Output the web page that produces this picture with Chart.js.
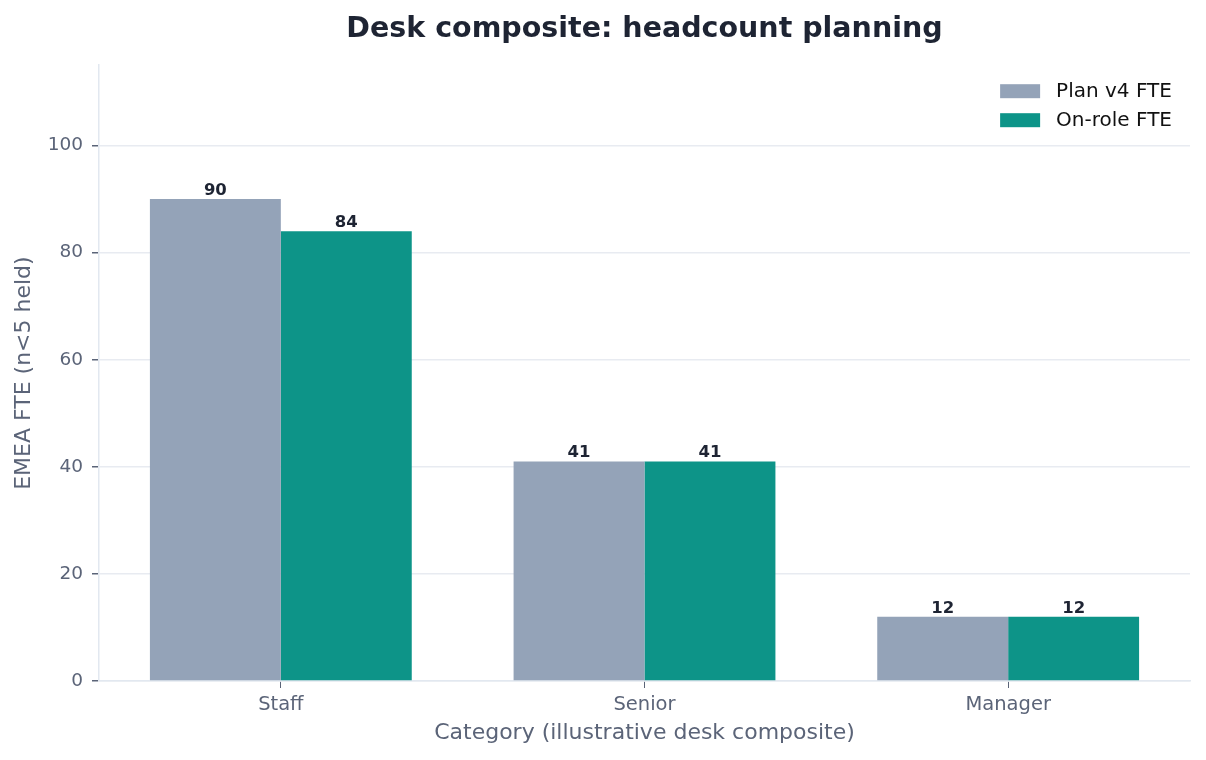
<!DOCTYPE html>
<html>
<head>
<meta charset="utf-8">
<script src="https://cdn.jsdelivr.net/npm/chart.js@4.4.1/dist/chart.umd.min.js"></script>
<style>
  html, body { margin: 0; padding: 0; background: #ffffff; }
  #wrap { width: 1206px; height: 760px; }
</style>
</head>
<body>
<div id="wrap"><canvas id="chart" width="1206" height="760"></canvas></div>
<script>
const categories = ['Staff', 'Senior', 'Manager'];
const planFte = [90, 41, 12];
const onRoleFte = [84, 41, 12];
const seriesLabels = ['Plan v4 FTE', 'On-role FTE'];
const seriesColors = ['#94a3b8', '#0d9488'];
const yTickValues = [0, 20, 40, 60, 80, 100];

const FONT = "'DejaVu Sans', sans-serif";
const MUTED = '#5b6478';
const DARK = '#1e2433';

// value labels above every bar
const barLabels = {
  id: 'barLabels',
  afterDatasetsDraw(chart) {
    const ctx = chart.ctx;
    ctx.save();
    ctx.font = 'bold 16.5px ' + FONT;
    ctx.fillStyle = DARK;
    ctx.textAlign = 'center';
    ctx.textBaseline = 'bottom';
    chart.data.datasets.forEach((ds, i) => {
      chart.getDatasetMeta(i).data.forEach((bar, j) => {
        ctx.fillText(String(ds.data[j]), bar.x, bar.y);
      });
    });
    ctx.restore();
  }
};

// legend in the upper right corner of the plot
const cornerLegend = {
  id: 'cornerLegend',
  afterDraw(chart) {
    const ctx = chart.ctx;
    const area = chart.chartArea;
    ctx.save();
    ctx.font = '20px ' + FONT;
    ctx.textBaseline = 'middle';
    ctx.textAlign = 'left';
    const textW = Math.max(...chart.data.datasets.map(d => ctx.measureText(d.label).width));
    const x0 = area.right - 18 - textW - 16 - 40;
    chart.data.datasets.forEach((ds, i) => {
      const y = area.top + 19 + i * 29;
      ctx.fillStyle = ds.backgroundColor;
      ctx.fillRect(x0, y, 40, 14);
      ctx.fillStyle = '#111111';
      ctx.fillText(ds.label, x0 + 56, y + 7.5);
    });
    ctx.restore();
  }
};

new Chart(document.getElementById('chart'), {
  type: 'bar',
  data: {
    labels: categories,
    datasets: [
      { label: seriesLabels[0], data: planFte, backgroundColor: seriesColors[0] },
      { label: seriesLabels[1], data: onRoleFte, backgroundColor: seriesColors[1] }
    ]
  },
  options: {
    responsive: false,
    animation: false,
    devicePixelRatio: 1,
    layout: { padding: { left: 0, right: 16, top: 0, bottom: 0 } },
    datasets: { bar: { categoryPercentage: 0.72, barPercentage: 1.0 } },
    plugins: {
      legend: { display: false },
      tooltip: { enabled: false },
      title: {
        display: true,
        fullSize: false,
        text: 'Desk composite: headcount planning',
        color: DARK,
        font: { family: FONT, size: 28.5, weight: 'bold' },
        padding: { top: 12, bottom: 19 }
      }
    },
    scales: {
      x: {
        grid: { drawOnChartArea: false, drawTicks: true, tickLength: 7, tickColor: MUTED, offset: false },
        border: { color: '#e2e8f0', width: 1.5 },
        ticks: { color: MUTED, font: { family: FONT, size: 19.5 }, padding: 5 },
        title: {
          display: true,
          text: 'Category (illustrative desk composite)',
          color: MUTED,
          font: { family: FONT, size: 22 },
          padding: { top: 2, bottom: 14 }
        },
        afterFit(scale) { scale.height = 79; }
      },
      y: {
        min: 0,
        max: 115,
        afterBuildTicks(scale) {
          scale.ticks = yTickValues.map(v => ({ value: v }));
        },
        ticks: { color: MUTED, font: { family: FONT, size: 18.5 }, padding: 9 },
        grid: { color: '#e8ebf1', lineWidth: 1.5, tickLength: 7, tickColor: MUTED },
        border: { color: '#e2e8f0', width: 1.5 },
        title: {
          display: true,
          text: 'EMEA FTE (n<5 held)',
          color: MUTED,
          font: { family: FONT, size: 22 },
          padding: { top: 11, bottom: 4 }
        },
        afterFit(scale) { scale.width = 99; }
      }
    }
  },
  plugins: [barLabels, cornerLegend]
});
</script>
</body>
</html>
